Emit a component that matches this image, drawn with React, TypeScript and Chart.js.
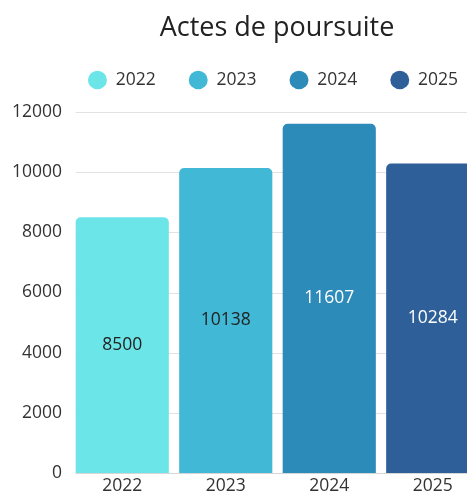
import React, { useEffect, useRef } from "react";
import { Chart, registerables } from "chart.js";

Chart.register(...registerables);

const years = ["2022", "2023", "2024", "2025"];
const values = [8500, 10138, 11607, 10284];
const colors = ["#6CE5E8", "#41B8D5", "#2D8BBA", "#2F5F98"];
const labelColors = ["#222222", "#222222", "#ffffff", "#ffffff"];
const yTicks = [0, 2000, 4000, 6000, 8000, 10000, 12000];

const FONT = "'Open Sans', 'Noto Sans', sans-serif";

const gridLines = {
  id: "gridLines",
  afterLayout(chart: any) {
    if (chart.legend) chart.legend.left = chart.legend.left - 8;
  },
  beforeDatasetsDraw(chart: any) {
    const { ctx, chartArea } = chart;
    const yScale = chart.scales.y;
    const xScale = chart.scales.x;
    const left = xScale.getPixelForValue(0) - (xScale.getPixelForValue(1) - xScale.getPixelForValue(0)) * 0.45;
    ctx.save();
    ctx.lineWidth = 1;
    yScale.ticks.forEach((t: any) => {
      const y = Math.round(yScale.getPixelForValue(t.value)) + 0.5;
      ctx.strokeStyle = t.value === 0 ? "#d6d6d6" : "#e2e2e2";
      ctx.beginPath();
      ctx.moveTo(left, y);
      ctx.lineTo(chartArea.right + 60, y);
      ctx.stroke();
    });
    ctx.restore();
  },
};

const valueLabels = {
  id: "valueLabels",
  afterDatasetsDraw(chart: any) {
    const ctx = chart.ctx;
    ctx.save();
    ctx.font = `17.5px ${FONT}`;
    ctx.textAlign = "center";
    ctx.textBaseline = "middle";
    chart.data.datasets.forEach((ds: any, i: number) => {
      const meta = chart.getDatasetMeta(i);
      meta.data.forEach((el: any, j: number) => {
        const v = ds.data[j];
        if (v === null || v === undefined) return;
        const { x, y, base } = el.getProps(["x", "y", "base"], true);
        ctx.fillStyle = labelColors[i];
        ctx.fillText(String(v), x, (y + base) / 2);
      });
    });
    ctx.restore();
  },
};

export default function App() {
  const ref = useRef<HTMLCanvasElement>(null);
  useEffect(() => {
    if (!ref.current) return;
    const chart = new Chart(ref.current, {
      type: "bar",
      data: {
        labels: years,
        datasets: years.map((y, i) => ({
          label: y,
          data: years.map((_, j) => (j === i ? values[i] : null)),
          backgroundColor: colors[i],
          borderRadius: 5,
          borderSkipped: "start",
        })),
      },
      options: {
        responsive: false,
        animation: false,
        skipNull: true,
        categoryPercentage: 1,
        barPercentage: 0.9,
        layout: { padding: 0 },
        plugins: {
          title: {
            display: true,
            text: "Actes de poursuite",
            color: "#222222",
            font: { family: FONT, size: 27, weight: "normal", lineHeight: 1.2 },
            padding: { top: 12, bottom: -6.15 },
          },
          subtitle: {
            display: true,
            text: "",
            weight: 500,
            padding: 0,
            font: { family: FONT, size: 13.25, lineHeight: 1 },
          },
          legend: {
            display: true,
            position: "top",
            labels: {
              usePointStyle: true,
              pointStyle: "circle",
              pointStyleWidth: 19,
              boxHeight: 13,
              padding: 33,
              color: "#333333",
              font: { family: FONT, size: 17.5 },
            },
          },
          tooltip: { enabled: false },
        },
        scales: {
          x: {
            grid: { display: false, drawTicks: false },
            border: { display: false },
            ticks: { color: "#333333", padding: 3, font: { family: FONT, size: 17.5 } },
          },
          y: {
            min: yTicks[0],
            max: yTicks[yTicks.length - 1],
            afterBuildTicks: (axis: any) => {
              axis.ticks = yTicks.map((v) => ({ value: v }));
            },
            afterFit: (axis: any) => {
              axis.width = 70.5;
            },
            grid: { display: false, drawTicks: false },
            border: { display: false },
            ticks: {
              color: "#333333",
              padding: 8.5,
              font: { family: FONT, size: 17.5 },
              callback: (v: any) => String(v),
            },
          },
          yRight: {
            position: "right",
            display: true,
            afterFit: (axis: any) => {
              axis.width = 69.5;
            },
            grid: { display: false, drawTicks: false },
            border: { display: false },
            ticks: { display: false },
          },
        },
      },
      plugins: [gridLines, valueLabels],
    } as any);
    return () => chart.destroy();
  }, []);
  return (
    <canvas
      ref={ref}
      width={554}
      height={500}
      style={{ position: "absolute", left: 0, top: 0, width: 554, height: 500 }}
    />
  );
}
